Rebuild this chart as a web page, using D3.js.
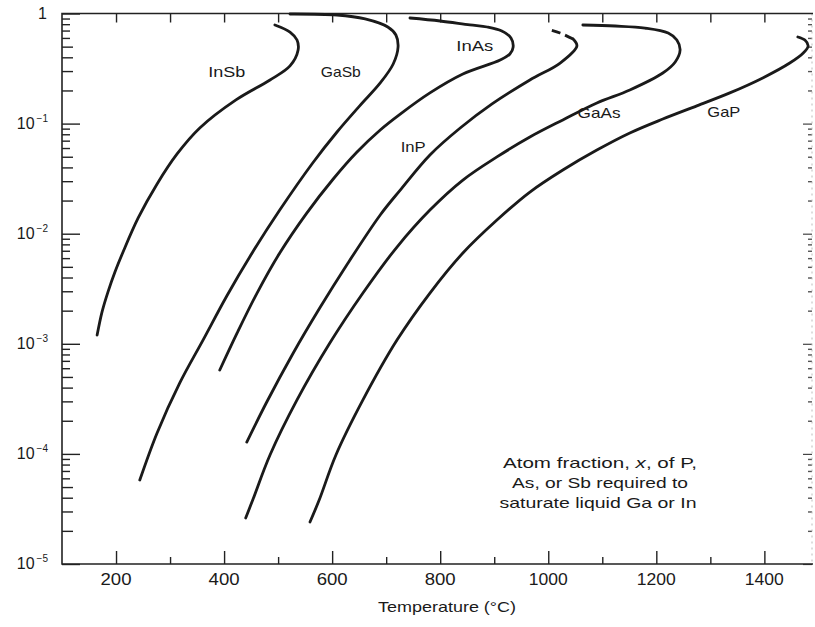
<!DOCTYPE html>
<html>
<head>
<meta charset="utf-8">
<script src="https://cdn.jsdelivr.net/npm/d3@7"></script>
<style>
  body { margin: 0; background: #fff; }
  svg { display: block; }
  text { font-family: "Liberation Sans", Arial, sans-serif; fill: #1a1a1a; }
</style>
</head>
<body>
<div id="chart"></div>
<script>
// Temperature (°C), atom fraction x
const inSb = [[165,1.20e-3],[174,1.94e-3],[185,2.95e-3],[198,4.49e-3],[213,6.82e-3],[241,1.39e-2],
  [276,2.83e-2],[313,5.30e-2],[355,9.12e-2],[422,0.164],[485,0.249],[522,0.334],[537,0.466],
  [535,0.574],[522,0.679],[494,0.787]];
const gaSb = [[244,5.79e-5],[276,1.55e-4],[318,4.41e-4],[361,1.08e-3],[405,2.72e-3],[453,6.82e-3],
  [503,1.64e-2],[564,4.39e-2],[609,8.39e-2],[651,0.145],[689,0.234],[713,0.348],[722,0.496],
  [718,0.638],[703,0.754],[661,0.892],[609,0.969],[522,0.99]];
const inAs = [[392,5.78e-4],[424,1.25e-3],[461,2.89e-3],[503,6.68e-3],[553,1.54e-2],[602,3.14e-2],
  [646,5.52e-2],[689,8.75e-2],[726,0.122],[781,0.190],[842,0.282],[911,0.378],[929,0.429],
  [935,0.496],[931,0.599],[914,0.693],[887,0.754],[855,0.787],[800,0.855],[744,0.910]];
const inP = [[442,1.28e-4],[479,2.96e-4],[527,8.08e-4],[577,2.11e-3],[627,5.20e-3],[689,1.48e-2],
  [726,2.49e-2],[781,5.19e-2],[837,9.12e-2],[896,0.151],[966,0.249],[1022,0.355],[1053,0.507],[1046,0.586]];
const inPDash = [[1046,0.586],[1022,0.665],[998,0.723]];
const gaAs = [[440,2.62e-5],[453,3.81e-5],[485,9.77e-5],[535,3.09e-4],[596,1.02e-3],[657,2.89e-3],
  [720,7.57e-3],[781,1.64e-2],[842,3.07e-2],[905,4.98e-2],[966,7.55e-2],[1027,0.108],[1090,0.154],
  [1151,0.202],[1212,0.288],[1235,0.363],[1244,0.466],[1238,0.574],[1222,0.665],[1179,0.738],
  [1124,0.770],[1064,0.786]];
const gaP = [[559,2.41e-5],[576,3.81e-5],[607,9.77e-5],[657,3.09e-4],[720,1.08e-3],[781,2.89e-3],
  [842,6.68e-3],[905,1.33e-2],[966,2.39e-2],[1027,3.79e-2],[1090,5.75e-2],[1151,8.22e-2],[1212,0.110],
  [1275,0.145],[1336,0.190],[1397,0.260],[1447,0.355],[1472,0.438],[1481,0.507],[1475,0.574],[1462,0.612]];

const curveNames = ["InSb", "GaSb", "InAs", "InP", "GaAs", "GaP"];
const curveData = [inSb, gaSb, inAs, inP, gaAs, gaP];
const labelAt = [[405,0.294],[616,0.294],[864,0.507],[750,0.0613],[1094,0.125],[1325,0.127]];

const tempMajor = [200, 400, 600, 800, 1000, 1200, 1400];
const tempMinor = [300, 500, 700, 900, 1100, 1300];
const decadeExp = [-5, -4, -3, -2, -1, 0];
const noteLines = ["Atom fraction, ", "As, or Sb required to", "saturate liquid Ga or In"];

const W = 815, H = 627;
const pLeft = 62, pRight = 813, pTop = 13.5, pBottom = 564;

const svg = d3.select("#chart").append("svg")
  .attr("width", W).attr("height", H);
svg.append("rect").attr("width", W).attr("height", H).attr("fill", "#fff");

const x = d3.scaleLinear().domain([100, 1490]).range([pLeft, pRight]);
const y = d3.scaleLog().domain([1e-5, 1]).range([pBottom, pTop]);

// minor log ticks 2..9 in each decade
const minorLow = [], minorHigh = [];
decadeExp.slice(0, -1).forEach(e => {
  for (let k = 2; k <= 9; k++) (k <= 5 ? minorLow : minorHigh).push(k * Math.pow(10, e));
});
const decades = decadeExp.map(e => Math.pow(10, e));

function cleanAxis(g) {
  g.select(".domain").remove();
  g.selectAll("line").attr("stroke", "#222").attr("stroke-width", 1.4);
}

// bottom axis, ticks pointing up
svg.append("g").attr("transform", `translate(0,${pBottom})`)
  .call(d3.axisBottom(x).tickValues(tempMajor).tickSizeInner(-13).tickSizeOuter(0).tickFormat(""))
  .call(cleanAxis);
svg.append("g").attr("transform", `translate(0,${pBottom})`)
  .call(d3.axisBottom(x).tickValues(tempMinor).tickSizeInner(-7).tickSizeOuter(0).tickFormat(""))
  .call(cleanAxis);

// top axis, ticks pointing down
svg.append("g").attr("transform", `translate(0,${pTop})`)
  .call(d3.axisTop(x).tickValues(tempMajor.concat(tempMinor)).tickSizeInner(-9).tickSizeOuter(0).tickFormat(""))
  .call(cleanAxis);

// left axis, ticks pointing right
svg.append("g").attr("transform", `translate(${pLeft},0)`)
  .call(d3.axisLeft(y).tickValues(decades).tickSizeInner(-18).tickSizeOuter(0).tickFormat(""))
  .call(cleanAxis);
svg.append("g").attr("transform", `translate(${pLeft},0)`)
  .call(d3.axisLeft(y).tickValues(minorLow).tickSizeInner(-11).tickSizeOuter(0).tickFormat(""))
  .call(cleanAxis);
svg.append("g").attr("transform", `translate(${pLeft},0)`)
  .call(d3.axisLeft(y).tickValues(minorHigh).tickSizeInner(-8).tickSizeOuter(0).tickFormat(""))
  .call(cleanAxis);

// right axis (faint in the scan), ticks pointing left
const rightAx = svg.append("g").attr("transform", `translate(${pRight - 1},0)`)
  .call(d3.axisRight(y).tickValues(decades.slice(0, -1)).tickSizeInner(-9).tickSizeOuter(0).tickFormat(""));
rightAx.select(".domain").remove();
rightAx.selectAll("line").attr("stroke", "#444").attr("stroke-width", 1.2);
const rightMinor = svg.append("g").attr("transform", `translate(${pRight - 1},0)`)
  .call(d3.axisRight(y).tickValues(minorLow.concat(minorHigh)).tickSizeInner(-4).tickSizeOuter(0).tickFormat(""));
rightMinor.select(".domain").remove();
rightMinor.selectAll("line").attr("stroke", "#555").attr("stroke-width", 1.4);
svg.append("line")
  .attr("x1", pRight - 1).attr("x2", pRight - 1).attr("y1", pTop).attr("y2", pBottom)
  .attr("stroke", "#bbb").attr("stroke-width", 1).attr("stroke-dasharray", "2,4");

// frame: left, top, bottom lines
svg.append("path")
  .attr("d", `M${pRight},${pTop}H${pLeft}V${pBottom}H${pRight}`)
  .attr("fill", "none").attr("stroke", "#222").attr("stroke-width", 1.6);

// x tick labels
svg.selectAll(".xl").data(tempMajor).enter().append("text")
  .attr("class", "xl")
  .attr("x", d => x(d)).attr("y", 585)
  .attr("text-anchor", "middle")
  .attr("font-size", 16)
  .attr("textLength", d => d >= 1000 ? 39 : 31)
  .attr("lengthAdjust", "spacingAndGlyphs")
  .text(d => d);

// y tick labels
const yl = svg.selectAll(".yl").data(decadeExp).enter().append("text")
  .attr("class", "yl")
  .attr("x", d => d === 0 ? 47 : 48)
  .attr("y", d => y(Math.pow(10, d)) + 5)
  .attr("text-anchor", "end")
  .attr("font-size", 16);
yl.filter(d => d === 0).text("1");
yl.filter(d => d !== 0).each(function(d) {
  const t = d3.select(this);
  t.append("tspan").text("10");
  t.append("tspan").attr("dy", -7).attr("dx", 2).attr("font-size", 10).text("\u2212" + (-d));
});

// axis title
svg.append("text")
  .attr("x", 447).attr("y", 612)
  .attr("text-anchor", "middle")
  .attr("font-size", 15)
  .attr("textLength", 138)
  .attr("lengthAdjust", "spacingAndGlyphs")
  .text("Temperature (\u00B0C)");

// curves
const line = d3.line()
  .x(d => x(d[0]))
  .y(d => y(d[1]))
  .curve(d3.curveCatmullRom.alpha(0.5));

svg.selectAll(".curve").data(curveData).enter().append("path")
  .attr("class", "curve")
  .attr("d", line)
  .attr("fill", "none")
  .attr("stroke", "#1a1a1a")
  .attr("stroke-width", 2.8)
  .attr("stroke-linecap", "round")
  .attr("stroke-linejoin", "round");

svg.append("path")
  .attr("d", line(inPDash))
  .attr("fill", "none")
  .attr("stroke", "#1a1a1a")
  .attr("stroke-width", 2.8)
  .attr("stroke-dasharray", "9,5");

// curve labels
const labelWidth = { InSb: 37, GaSb: 40, InAs: 37, InP: 25, GaAs: 43, GaP: 33 };
svg.selectAll(".cl").data(curveNames).enter().append("text")
  .attr("class", "cl")
  .attr("x", (d, i) => x(labelAt[i][0]))
  .attr("y", (d, i) => y(labelAt[i][1]))
  .attr("dy", "0.35em")
  .attr("text-anchor", "middle")
  .attr("font-size", 15)
  .attr("textLength", d => labelWidth[d])
  .attr("lengthAdjust", "spacingAndGlyphs")
  .text(d => d);

// note
const note = svg.append("g").attr("font-size", 15);
const n1 = note.append("text").attr("x", 600).attr("y", 468).attr("text-anchor", "middle")
  .attr("textLength", 194).attr("lengthAdjust", "spacingAndGlyphs");
n1.append("tspan").text(noteLines[0]);
n1.append("tspan").attr("font-style", "italic").text("x");
n1.append("tspan").text(", of P,");
note.append("text").attr("x", 600).attr("y", 488).attr("text-anchor", "middle")
  .attr("textLength", 176).attr("lengthAdjust", "spacingAndGlyphs").text(noteLines[1]);
note.append("text").attr("x", 598).attr("y", 508).attr("text-anchor", "middle")
  .attr("textLength", 197).attr("lengthAdjust", "spacingAndGlyphs").text(noteLines[2]);
</script>
</body>
</html>
